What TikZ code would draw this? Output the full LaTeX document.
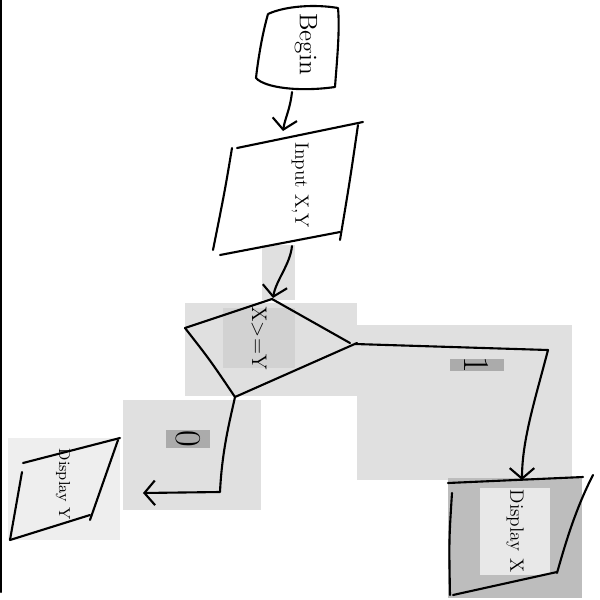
\documentclass[tikz,border=0pt]{standalone}
\usetikzlibrary{arrows.meta}
\definecolor{gA}{HTML}{E0E0E0}
\definecolor{gB}{HTML}{D2D2D2}
\definecolor{gC}{HTML}{ABABAB}
\definecolor{gD}{HTML}{EEEEEE}
\definecolor{gE}{HTML}{BDBDBD}
\definecolor{gF}{HTML}{E8E8E8}
\begin{document}
\begin{tikzpicture}[x=0.02cm,y=-0.02cm,
  pen/.style={line width=1.2pt, line cap=round, line join=round},
  flow/.style={pen, -{Straight Barb[length=6pt,width=14pt]}},
  txt/.style={rotate=-90, inner sep=1pt},
  lblbox/.style={fill=gC, minimum width=0.85cm, minimum height=0.25cm, inner sep=0pt}]
\useasboundingbox (0,0) rectangle (600,600);
\fill[white] (0,0) rectangle (600,600);
% background panels
\fill[gA] (262,245) rectangle (295,300);
\fill[gA] (185,303) rectangle (357,396);
\fill[gB] (223,308) rectangle (295,368);
\fill[gA] (357,325) rectangle (572,480);
\fill[gA] (123,400) rectangle (261,510);
\fill[gD] (8,438) rectangle (120,540);
\fill[gE] (448,478) rectangle (582,598);
\fill[gF] (480,488) rectangle (550,575);
% left border
\draw[pen] (1,0) -- (1,592);
% Begin terminal
\draw[pen] (268,14) .. controls (262,35) and (258,60) .. (256,78)
  .. controls (265,88) and (300,92) .. (335,87)
  .. controls (337,60) and (340,30) .. (338,8)
  .. controls (315,4) and (285,6) .. (268,14);
\node[txt, font=\Large] (begin) at (306,44) {Begin};
\coordinate (beginb) at (292,92);
% Input parallelogram
\draw[pen] (237,148) -- (363,122);
\draw[pen] (232,148) .. controls (225,190) .. (213,250);
\draw[pen] (220,255) -- (340,232);
\draw[pen] (358,125) .. controls (350,180) .. (340,240);
\coordinate (inputt) at (283,131);
\coordinate (inputb) at (292,246);
\node[txt, font=\fontsize{11}{13}\selectfont] (input) at (300,185) {Input X,Y};
% decision
\draw[pen] (185,328) -- (272,299) -- (350,343);
\draw[pen] (185,328) .. controls (210,360) .. (235,397) -- (357,343);
\coordinate (dtop) at (273,298);
\coordinate (dright) at (355,344);
\coordinate (dbot) at (235,397);
\node[txt, font=\large] (cond) at (259,338) {X>=Y};
% outputs
\draw[pen] (23,463) -- (120,438);
\draw[pen] (22,472) -- (10,540);
\draw[pen] (10,540) -- (90,515);
\draw[pen] (118,440) .. controls (105,480) .. (90,520);
\node[txt, font=\fontsize{9}{11}\selectfont] (outy) at (63,484) {Display Y};
\coordinate (outyr) at (143,493);
\draw[pen] (448,483) -- (583,477);
\draw[pen] (452,493) .. controls (449,540) .. (450,595);
\draw[pen] (453,595) -- (557,572);
\draw[pen] (593,475) .. controls (575,510) and (565,545) .. (557,573);
\node[txt, font=\fontsize{11}{13}\selectfont] (outx) at (515,531) {Display X};
\coordinate (outxt) at (522,480);
% connectors
\draw[flow] (beginb) .. controls (290,110) and (285,118) .. (inputt);
\draw[flow] (inputb) .. controls (290,265) and (276,280) .. (dtop);
\draw[flow] (dright) -- (548,350) .. controls (535,400) and (522,440) .. (outxt);
\draw[flow] (dbot) .. controls (230,420) and (222,450) .. (220,492) -- (outyr);
% branch labels
\node[lblbox, minimum width=1.1cm] (l1) at (477,365) {};
\node[txt, font=\huge] (one) at (l1) {1};
\node[lblbox, minimum width=0.88cm, minimum height=0.36cm] (l0) at (188,439) {};
\node[txt, font=\huge] (zero) at (l0) {0};
\end{tikzpicture}
\end{document}
